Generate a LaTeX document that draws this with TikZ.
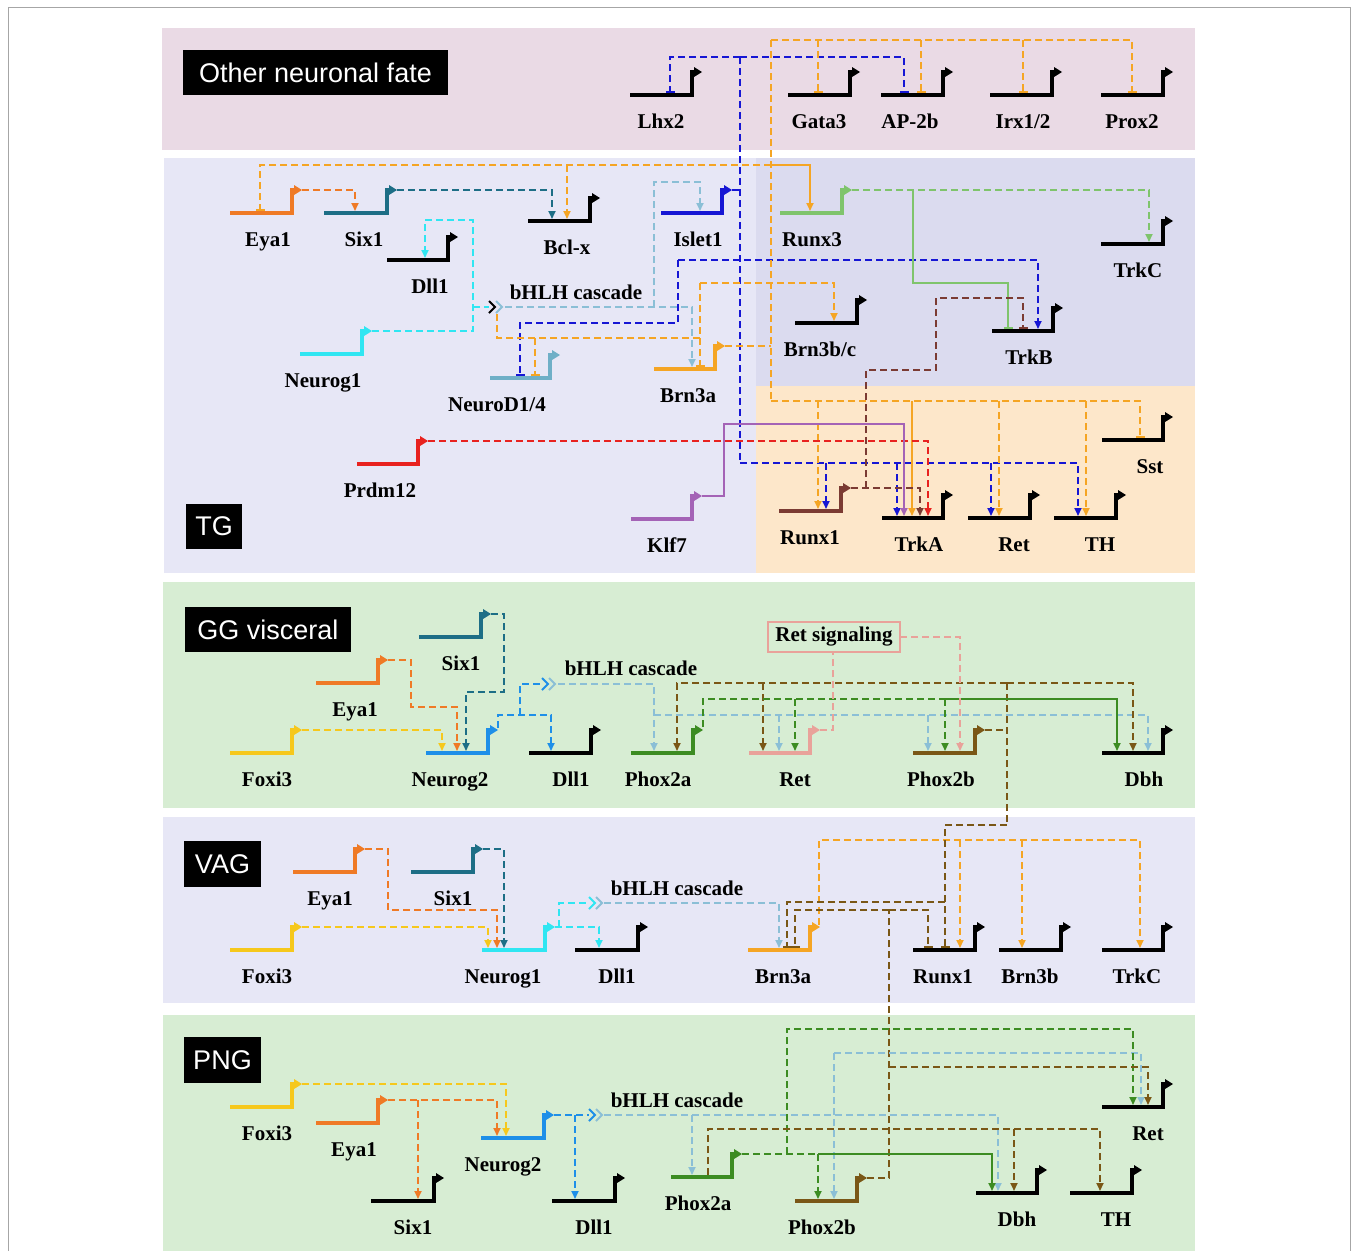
\documentclass[tikz,border=0pt]{standalone}
\usepackage{fontspec}
\setmainfont{Liberation Serif}
\newfontfamily\boxfont{Liberation Sans}
\usetikzlibrary{arrows.meta}
\definecolor{bgPink}{HTML}{EADAE5}
\definecolor{bgLav}{HTML}{E7E7F6}
\definecolor{bgLavD}{HTML}{DBDBEF}
\definecolor{bgPeach}{HTML}{FDE7CA}
\definecolor{bgGreen}{HTML}{D7EDD3}
\definecolor{cEya}{HTML}{EF7A26}
\definecolor{cSix}{HTML}{1D6E86}
\definecolor{cIsl}{HTML}{1616D4}
\definecolor{cRxt}{HTML}{7FC46C}
\definecolor{cNgo}{HTML}{30E6F2}
\definecolor{cNd}{HTML}{6FAFC7}
\definecolor{cBrn}{HTML}{F5A524}
\definecolor{cPrd}{HTML}{E8221F}
\definecolor{cKlf}{HTML}{A463B6}
\definecolor{cRxo}{HTML}{7B3B33}
\definecolor{cFox}{HTML}{F6C81C}
\definecolor{cNgt}{HTML}{1E8FE8}
\definecolor{cPa}{HTML}{3C8C22}
\definecolor{cRet}{HTML}{E9A29A}
\definecolor{cPb}{HTML}{7A5716}
\definecolor{cCas}{HTML}{8BBFD6}
\tikzset{
  gl/.style={line width=3.5pt, line join=miter},
  glab/.style={font=\fontsize{21}{21}\selectfont\bfseries, inner sep=0pt, anchor=base},
  cas/.style={font=\fontsize{21}{21}\selectfont\bfseries, inner sep=0pt},
  lbox/.style={fill=black, text=white, font=\boxfont\fontsize{27}{27}\selectfont, inner sep=0pt},
  dsh/.style={line width=1.8pt, dash pattern=on 7pt off 4pt},
  sld/.style={line width=1.8pt},
  act/.style={-{Triangle[length=8pt,width=7pt]}},
  rep/.style={-{Bar[width=9pt]}},
  chev/.style={line width=1.8pt},
}
\newcommand{\gene}[7]{%
  \draw[gl,#5] (#2,#4) -- (#3,#4) -- (#3,{#4-23}) -- ({#3+4},{#4-23});
  \fill[#5] ({#3+10},{#4-23}) -- ({#3+2},{#4-28}) -- ({#3+2},{#4-18}) -- cycle;
  \node[glab] (#1) at (#7,{#4+33}) {#6};
}
\begin{document}
\begin{tikzpicture}[x=1pt,y=-1pt]
\useasboundingbox (0,0) rectangle (1358,1251);
\fill[white] (0,0) rectangle (1358,1251);
\draw[gray!70, line width=1pt] (8,1251) -- (8,7) -- (1350,7) -- (1350,1251);
% panels
\fill[bgPink] (162,28) rectangle (1195,150);
\fill[bgLav] (164,158) rectangle (1195,573);
\fill[bgLavD] (756,158) rectangle (1195,386);
\fill[bgPeach] (756,386) rectangle (1195,573);
\fill[bgGreen] (163,582) rectangle (1195,808);
\fill[bgLav] (163,817) rectangle (1195,1003);
\fill[bgGreen] (163,1015) rectangle (1195,1251);
% label boxes
\node[lbox, minimum width=265pt, minimum height=45pt] (bxOther) at (315.5,72.5) {Other neuronal fate};
\node[lbox, minimum width=56pt, minimum height=45pt] (bxTG) at (214,526.5) {TG};
\node[lbox, minimum width=166pt, minimum height=45pt] (bxGG) at (268,629.5) {GG visceral};
\node[lbox, minimum width=77pt, minimum height=46pt] (bxVAG) at (222.5,864) {VAG};
\node[lbox, minimum width=77pt, minimum height=46pt] (bxPNG) at (222.5,1060) {PNG};

% ================= TG + top connectors =================
% Islet1 (blue)
\draw[dsh,cIsl] (732,190) -- (740,190);
\draw[dsh,cIsl] (740,57) -- (740,463);
\draw[dsh,cIsl,rep] (740,57) -- (670,57) -- (670,93);
\draw[dsh,cIsl,rep] (740,57) -- (904,57) -- (904,93);
\draw[dsh,cIsl,act] (678,260) -- (1038,260) -- (1038,329);
\draw[dsh,cIsl,rep] (678,260) -- (678,323) -- (520,323) -- (520,376);
\draw[dsh,cIsl,act] (740,463) -- (1078,463) -- (1078,516);
\draw[dsh,cIsl,act] (826,463) -- (826,509);
\draw[dsh,cIsl,act] (897,463) -- (897,516);
\draw[dsh,cIsl,act] (991,463) -- (991,516);
% Brn3a (orange)
\draw[dsh,cBrn] (725,346) -- (771,346);
\draw[dsh,cBrn] (771,40) -- (771,401);
\draw[dsh,cBrn,rep] (771,40) -- (1132,40) -- (1132,93);
\foreach \xx in {818,921,1023} {\draw[dsh,cBrn,rep] (\xx,40) -- (\xx,93);}
\draw[dsh,cBrn,rep] (771,165) -- (260,165) -- (260,211);
\draw[dsh,cBrn,act] (567,165) -- (567,219);
\draw[sld,cBrn,act] (771,165) -- (810,165) -- (810,211);
\draw[dsh,cBrn,rep] (771,401) -- (1140,401) -- (1140,438);
\draw[dsh,cBrn,act] (818,401) -- (818,509);
\draw[sld,cBrn,act] (912,401) -- (912,516);
\draw[dsh,cBrn,act] (999,401) -- (999,516);
\draw[dsh,cBrn,act] (1086,401) -- (1086,516);
\draw[dsh,cBrn,act] (700,283) -- (834,283) -- (834,321);
\draw[dsh,cBrn,rep] (700,283) -- (700,367);
\draw[dsh,cBrn] (700,338) -- (497,338) -- (497,313);
\draw[dsh,cBrn,rep] (535,338) -- (535,376);
% bHLH cascade (TG)
\draw[dsh,cCas,act] (505,307) -- (692,307) -- (692,367);
\draw[dsh,cCas,act] (654,307) -- (654,182) -- (700,182) -- (700,211);
% Neurog1 (cyan)
\draw[dsh,cNgo,act] (372,331) -- (473,331) -- (473,220) -- (425,220) -- (425,258);
\draw[dsh,cNgo] (473,307) -- (489,307);
\draw[chev,black] (489,301) -- (495,307) -- (489,313);
\draw[chev,cCas] (496,301) -- (502,307) -- (496,313);
% Eya1 -> Six1, Six1 -> Bcl-x
\draw[dsh,cEya,act] (302,190) -- (355,190) -- (355,211);
\draw[dsh,cSix,act] (397,190) -- (552,190) -- (552,219);
% Runx3
\draw[dsh,cRxt,act] (852,190) -- (1149,190) -- (1149,242);
\draw[sld,cRxt,rep] (913,190) -- (913,283) -- (1008,283) -- (1008,329);
% Runx1 (brown)
\draw[dsh,cRxo,act] (851,488) -- (920,488) -- (920,516);
\draw[dsh,cRxo,rep] (866,488) -- (866,370) -- (936,370) -- (936,298) -- (1023,298) -- (1023,329);
% Prdm12 (red)
\draw[dsh,cPrd,act] (428,441) -- (928,441) -- (928,516);
% Klf7 (purple)
\draw[sld,cKlf,act] (702,496) -- (724,496) -- (724,424) -- (904,424) -- (904,516);

% ================= GG visceral =================
\draw[dsh,cFox,act] (302,730) -- (442,730) -- (442,751);
\draw[dsh,cEya,act] (388,660) -- (411,660) -- (411,707) -- (457,707) -- (457,751);
\draw[dsh,cSix,act] (491,614) -- (504,614) -- (504,692) -- (466,692) -- (466,751);
\draw[dsh,cNgt,act] (498,728) -- (498,715) -- (551,715) -- (551,751);
\draw[dsh,cNgt] (520,715) -- (520,684) -- (542,684);
\draw[chev,cNgt] (542,678) -- (548,684) -- (542,690);
\draw[chev,cCas] (549,678) -- (555,684) -- (549,690);
\draw[dsh,cCas,act] (558,684) -- (654,684) -- (654,751);
\draw[dsh,cCas,act] (654,715) -- (1148,715) -- (1148,751);
\draw[dsh,cCas,act] (779,715) -- (779,751);
\draw[dsh,cCas,act] (928,715) -- (928,751);
\draw[dsh,cPb] (985,730) -- (1007,730);
\draw[dsh,cPb] (1007,683) -- (1007,825);
\draw[dsh,cPb,act] (1007,683) -- (677,683) -- (677,751);
\draw[dsh,cPb,act] (1007,683) -- (1133,683) -- (1133,751);
\draw[dsh,cPb,act] (763,683) -- (763,751);
\draw[dsh,cPa] (703,727) -- (703,699) -- (945,699);
\draw[dsh,cPa,act] (795,699) -- (795,751);
\draw[dsh,cPa,act] (945,699) -- (945,751);
\draw[sld,cPa,act] (945,699) -- (1117,699) -- (1117,751);
\draw[dsh,cRet] (820,730) -- (833,730) -- (833,652);
\draw[dsh,cRet,act] (900,637) -- (960,637) -- (960,751);
\node[draw=cRet, line width=2.5pt, minimum width=132pt, minimum height=30pt, inner sep=0pt, font=\fontsize{21}{21}\selectfont\bfseries] (retsig) at (834,637) {Ret signaling};

% ================= VAG =================
\draw[dsh,cEya,act] (365,849) -- (388,849) -- (388,910) -- (497,910) -- (497,948);
\draw[dsh,cSix,act] (483,849) -- (504,849) -- (504,948);
\draw[dsh,cFox,act] (302,927) -- (488,927) -- (488,948);
\draw[dsh,cNgo,act] (555,927) -- (599,927) -- (599,948);
\draw[dsh,cNgo] (559,927) -- (559,903) -- (589,903);
\draw[chev,cNgo] (589,897) -- (595,903) -- (589,909);
\draw[chev,cCas] (596,897) -- (602,903) -- (596,909);
\draw[dsh,cCas,act] (604,903) -- (779,903) -- (779,948);
\draw[dsh,cBrn,act] (819,925) -- (819,840) -- (1140,840) -- (1140,948);
\draw[dsh,cBrn,act] (960,840) -- (960,948);
\draw[dsh,cBrn,act] (1022,840) -- (1022,948);
\draw[dsh,cPb,rep] (1007,825) -- (945,825) -- (945,948);
\draw[dsh,cPb,rep] (945,902) -- (787,902) -- (787,948);
\draw[dsh,cPb] (867,1178) -- (889,1178) -- (889,910);
\draw[dsh,cPb,rep] (889,910) -- (795,910) -- (795,948);
\draw[dsh,cPb,rep] (889,910) -- (928,910) -- (928,948);

% ================= PNG =================
\draw[dsh,cFox,act] (302,1084) -- (506,1084) -- (506,1136);
\draw[dsh,cEya,act] (388,1100) -- (497,1100) -- (497,1136);
\draw[dsh,cEya,act] (418,1100) -- (418,1199);
\draw[dsh,cNgt] (554,1115) -- (589,1115);
\draw[dsh,cNgt,act] (575,1115) -- (575,1199);
\draw[chev,cNgt] (589,1109) -- (595,1115) -- (589,1121);
\draw[chev,cCas] (596,1109) -- (602,1115) -- (596,1121);
\draw[dsh,cCas,act] (604,1115) -- (998,1115) -- (998,1191);
\draw[dsh,cCas,act] (692,1115) -- (692,1175);
\draw[dsh,cCas,act] (834,1053) -- (834,1199);
\draw[dsh,cCas,act] (834,1053) -- (1141,1053) -- (1141,1105);
\draw[dsh,cPa] (742,1154) -- (818,1154);
\draw[dsh,cPa,act] (818,1154) -- (818,1199);
\draw[sld,cPa,act] (818,1154) -- (992,1154) -- (992,1191);
\draw[dsh,cPa,act] (787,1154) -- (787,1029) -- (1133,1029) -- (1133,1105);
\draw[dsh,cPb,act] (889,1067) -- (1148,1067) -- (1148,1105);
\draw[dsh,cPb,act] (708,1175) -- (708,1129) -- (1100,1129) -- (1100,1191);
\draw[dsh,cPb,act] (1014,1129) -- (1014,1191);

% ================= genes =================
\gene{oLhx}{630}{692}{95}{black}{Lhx2}{661}
\gene{oGata}{788}{850}{95}{black}{Gata3}{819}
\gene{oAP}{881}{943}{95}{black}{AP-2b}{910}
\gene{oIrx}{990}{1052}{95}{black}{Irx1/2}{1023}
\gene{oProx}{1101}{1163}{95}{black}{Prox2}{1132}
\gene{tEya}{230}{292}{213}{cEya}{Eya1}{268}
\gene{tSix}{324}{387}{213}{cSix}{Six1}{364}
\gene{tBcl}{528}{590}{221}{black}{Bcl-x}{567}
\gene{tDll}{387}{448}{260}{black}{Dll1}{430}
\gene{tIsl}{661}{722}{213}{cIsl}{Islet1}{698}
\gene{tRxt}{780}{842}{213}{cRxt}{Runx3}{812}
\gene{tTrkC}{1101}{1163}{244}{black}{TrkC}{1138}
\gene{tNgo}{300}{362}{354}{cNgo}{Neurog1}{323}
\gene{tNd}{490}{550}{378}{cNd}{NeuroD1/4}{497}
\gene{tBrn}{654}{715}{369}{cBrn}{Brn3a}{688}
\gene{tBbc}{795}{857}{323}{black}{Brn3b/c}{820}
\gene{tTrkB}{992}{1053}{331}{black}{TrkB}{1029}
\gene{tPrd}{357}{418}{464}{cPrd}{Prdm12}{380}
\gene{tKlf}{631}{692}{519}{cKlf}{Klf7}{667}
\gene{tSst}{1102}{1163}{440}{black}{Sst}{1150}
\gene{tRxo}{779}{841}{511}{cRxo}{Runx1}{810}
\gene{tTrkA}{882}{943}{518}{black}{TrkA}{919}
\gene{tRet}{968}{1030}{518}{black}{Ret}{1014}
\gene{tTH}{1054}{1116}{518}{black}{TH}{1100}
\node[cas] (tCas) at (576,292) {bHLH cascade};
\gene{gSix}{419}{481}{637}{cSix}{Six1}{461}
\gene{gEya}{316}{378}{683}{cEya}{Eya1}{355}
\gene{gFox}{230}{292}{753}{cFox}{Foxi3}{267}
\gene{gNgt}{426}{488}{753}{cNgt}{Neurog2}{450}
\gene{gDll}{529}{591}{753}{black}{Dll1}{571}
\gene{gPa}{631}{693}{753}{cPa}{Phox2a}{658}
\gene{gRet}{749}{810}{753}{cRet}{Ret}{795}
\gene{gPb}{913}{975}{753}{cPb}{Phox2b}{941}
\gene{gDbh}{1102}{1163}{753}{black}{Dbh}{1144}
\node[cas] (gCas) at (631,668) {bHLH cascade};
\gene{vEya}{293}{355}{872}{cEya}{Eya1}{330}
\gene{vSix}{411}{473}{872}{cSix}{Six1}{453}
\gene{vFox}{230}{292}{950}{cFox}{Foxi3}{267}
\gene{vNgo}{482}{545}{950}{cNgo}{Neurog1}{503}
\gene{vDll}{575}{638}{950}{black}{Dll1}{617}
\gene{vBrn}{748}{810}{950}{cBrn}{Brn3a}{783}
\gene{vRxo}{913}{975}{950}{black}{Runx1}{943}
\gene{vBrb}{999}{1061}{950}{black}{Brn3b}{1030}
\gene{vTrkC}{1102}{1163}{950}{black}{TrkC}{1137}
\node[cas] (vCas) at (677,888) {bHLH cascade};
\gene{pFox}{230}{292}{1107}{cFox}{Foxi3}{267}
\gene{pEya}{316}{378}{1123}{cEya}{Eya1}{354}
\gene{pNgt}{481}{544}{1138}{cNgt}{Neurog2}{503}
\gene{pSix}{371}{434}{1201}{black}{Six1}{413}
\gene{pDll}{552}{615}{1201}{black}{Dll1}{594}
\gene{pPa}{671}{732}{1177}{cPa}{Phox2a}{698}
\gene{pPb}{795}{857}{1201}{cPb}{Phox2b}{822}
\gene{pDbh}{976}{1037}{1193}{black}{Dbh}{1017}
\gene{pTH}{1070}{1132}{1193}{black}{TH}{1116}
\gene{pRet}{1102}{1163}{1107}{black}{Ret}{1148}
\node[cas] (pCas) at (677,1100) {bHLH cascade};
\end{tikzpicture}
\end{document}
